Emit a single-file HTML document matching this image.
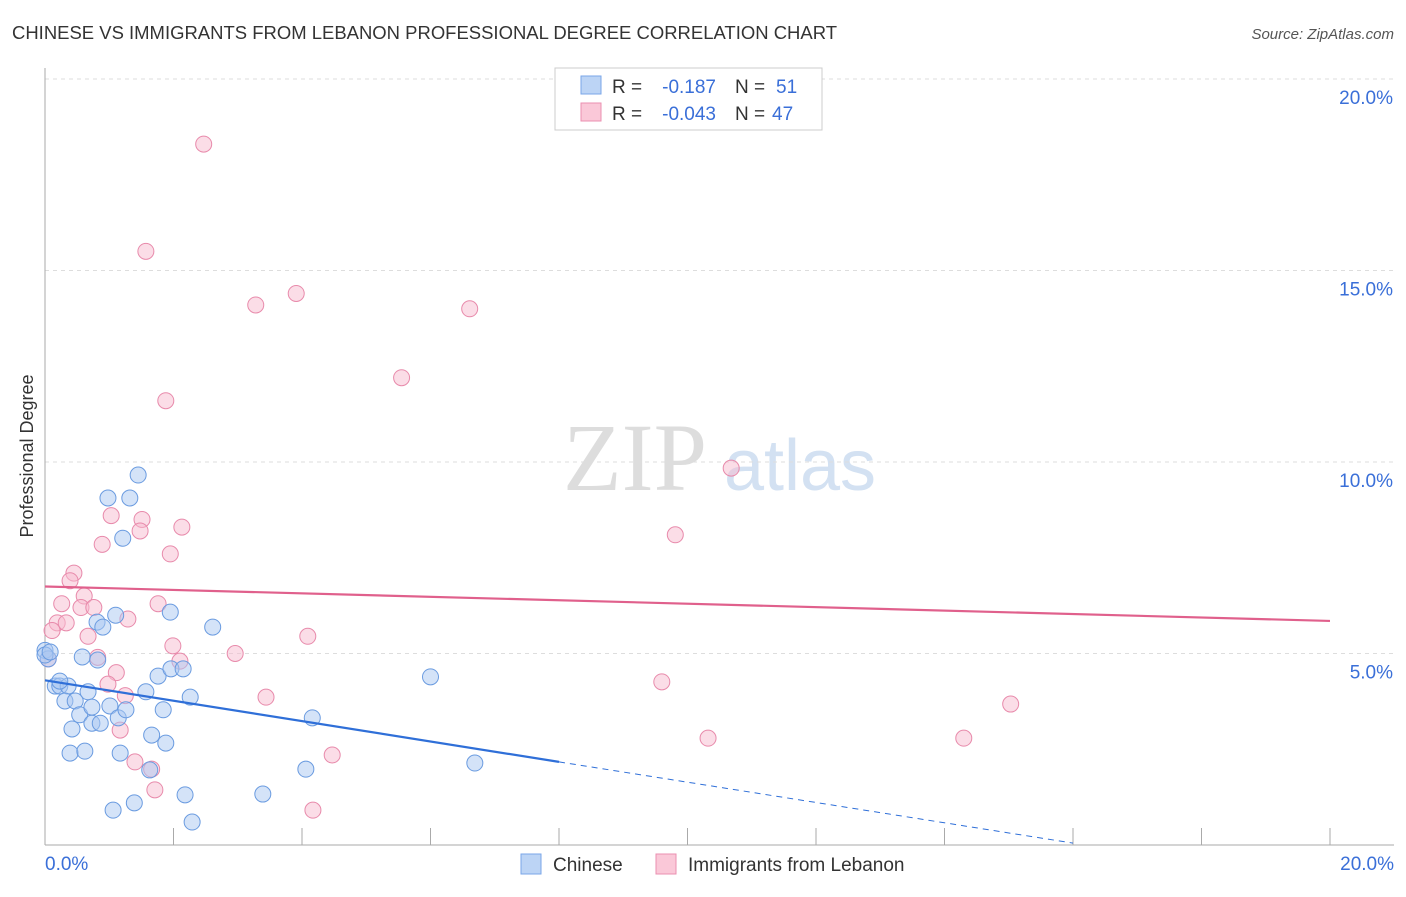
<!DOCTYPE html>
<html><head><meta charset="utf-8"><style>
body{margin:0;background:#fff;font-family:"Liberation Sans",sans-serif}
</style></head><body>
<svg width="1406" height="892" xmlns="http://www.w3.org/2000/svg" font-family="Liberation Sans, sans-serif">
<text x="12" y="39" font-size="18" fill="#333" textLength="825" lengthAdjust="spacingAndGlyphs">CHINESE VS IMMIGRANTS FROM LEBANON PROFESSIONAL DEGREE CORRELATION CHART</text>
<text x="1394" y="39" font-size="15" fill="#555" font-style="italic" text-anchor="end">Source: ZipAtlas.com</text>
<g>
<text x="635" y="490" font-size="96" fill="#ddd" font-family="Liberation Serif, serif" text-anchor="middle">ZIP</text>
<text x="800" y="490" font-size="72" fill="#d3e1f2" text-anchor="middle">atlas</text></g>
<g id="grid"></g>
<g id="axes"></g>
<text transform="translate(33,456) rotate(-90)" font-size="18" fill="#333" text-anchor="middle">Professional Degree</text>
<g id="marks"></g>
<g>
<rect x="555" y="68" width="267" height="62" fill="#fff" stroke="#ccc"/>
<rect x="581" y="76" width="20" height="18" fill="#bcd4f5" stroke="#7aa6e8"/>
<rect x="581" y="103" width="20" height="18" fill="#fac8d8" stroke="#eb8fb0"/>
<g font-size="19">
<text x="612" y="93" fill="#333">R =</text>
<text x="716" y="93" fill="#3a6fd8" text-anchor="end">-0.187</text>
<text x="735" y="93" fill="#333">N =</text>
<text x="776" y="93" fill="#3a6fd8">51</text>
<text x="612" y="120" fill="#333">R =</text>
<text x="716" y="120" fill="#3a6fd8" text-anchor="end">-0.043</text>
<text x="735" y="120" fill="#333">N =</text>
<text x="772" y="120" fill="#3a6fd8">47</text>
</g>
</g>
<g>
<rect x="521" y="854" width="20" height="20" fill="#bcd4f5" stroke="#7aa6e8"/>
<text x="553" y="871" font-size="19" fill="#333">Chinese</text>
<rect x="656" y="854" width="20" height="20" fill="#fac8d8" stroke="#eb8fb0"/>
<text x="688" y="871" font-size="19" fill="#333">Immigrants from Lebanon</text>
</g>
</svg>
<script>
const yTicks=[5,10,15,20];
const yTickLabels=["5.0%","10.0%","15.0%","20.0%"];
const xTicks=[0,2,4,6,8,10,12,14,16,18,20];
const chineseX=[0,0.05,0.16,0.23,0.36,0.23,0.31,0.47,0.42,0.39,0.62,0.54,0.67,0.73,0.73,0.86,0.58,0.81,0.9,0.82,1.1,1.21,0.98,1.32,1.45,1.01,1.14,1.26,1.17,1.57,1.66,1.63,1.84,1.88,1.76,1.95,1.96,2.15,2.26,2.61,1.39,1.06,2.18,2.29,3.39,4.06,4.16,6.0,6.69,0,0.08];
const chineseY=[5.08,4.86,4.15,4.15,4.15,4.28,3.76,3.76,3.03,2.4,2.45,3.4,4.0,3.6,3.18,3.18,4.91,5.82,5.69,4.83,6.0,8.01,9.06,9.06,9.66,3.63,3.32,3.53,2.4,4.0,2.87,1.96,3.53,2.66,4.41,6.08,4.6,4.6,3.86,5.69,1.1,0.91,1.31,0.6,1.33,1.98,3.32,4.39,2.14,4.96,5.04];
const lebX=[2.47,1.57,3.28,3.91,6.61,5.55,1.88,10.68,9.81,1.03,1.51,2.13,0.89,1.48,1.95,0.45,0.39,0.61,0.56,0.76,0.26,0.19,0.33,0.11,1.29,1.76,0.67,1.99,0.82,1.11,0.98,1.25,2.1,2.96,4.09,3.44,9.6,15.03,10.32,14.3,1.17,1.4,1.66,1.71,4.47,4.17,0.05];
const lebY=[18.3,15.5,14.1,14.4,14.0,12.2,11.6,9.84,8.1,8.6,8.5,8.3,7.85,8.2,7.6,7.1,6.9,6.5,6.2,6.2,6.3,5.8,5.8,5.6,5.9,6.3,5.45,5.2,4.9,4.5,4.2,3.9,4.8,5.0,5.45,3.86,4.26,3.68,2.79,2.79,3.0,2.17,1.98,1.44,2.35,0.91,4.86];
const X=v=>45+v/20*1285, Y=v=>845-v/20*766;
const NS="http://www.w3.org/2000/svg";
function mk(t,a,p){const e=document.createElementNS(NS,t);for(const k in a)e.setAttribute(k,a[k]);p.appendChild(e);return e;}
const grid=document.getElementById('grid'),axes=document.getElementById('axes'),marks=document.getElementById('marks');
yTicks.forEach((t,i)=>{
 const l=mk('line',{x1:45,x2:1394,y1:Y(t),y2:Y(t),stroke:'#ddd','stroke-dasharray':'4,4'},grid);
 
 
 const tx=mk('text',{x:1393,y:Y(t)+25,'font-size':19,fill:'#3a6fd8','text-anchor':'end'},axes);
 tx.textContent=yTickLabels[i];
 
 
});
mk('line',{x1:45,x2:45,y1:68,y2:845,stroke:'#aaa'},axes);
mk('line',{x1:45,x2:1394,y1:845,y2:845,stroke:'#aaa'},axes);
xTicks.forEach(t=>{const l=mk('line',{x1:X(t),x2:X(t),y1:828,y2:845,stroke:'#aaa'},axes);
 
 });
let a=mk('text',{x:45,y:870,'font-size':19,fill:'#3a6fd8'},axes);a.textContent='0.0%';


a=mk('text',{x:1394,y:870,'font-size':19,fill:'#3a6fd8','text-anchor':'end'},axes);a.textContent='20.0%';


function pts(xs,ys,fill,stroke,name){xs.forEach((x,i)=>{const c=mk('circle',{cx:X(x),cy:Y(ys[i]),r:8,fill:fill,'fill-opacity':0.5,stroke:stroke,'stroke-width':1},marks);
 
 });}
pts(lebX,lebY,'#f8bcd0','#e88aab','lebanon-point');
pts(chineseX,chineseY,'#a9c8f2','#6a9be0','chinese-point');
let t=mk('line',{x1:X(0),y1:Y(6.75),x2:X(20),y2:Y(5.85),stroke:'#e0608c','stroke-width':2.2},marks);


t=mk('line',{x1:X(0),y1:Y(4.3),x2:X(8),y2:Y(2.17),stroke:'#2f6fd8','stroke-width':2.2},marks);


t=mk('line',{x1:X(8),y1:Y(2.17),x2:X(16),y2:Y(0.05),stroke:'#2f6fd8','stroke-width':1,'stroke-dasharray':'6,5'},marks);


</script>
</body></html>
